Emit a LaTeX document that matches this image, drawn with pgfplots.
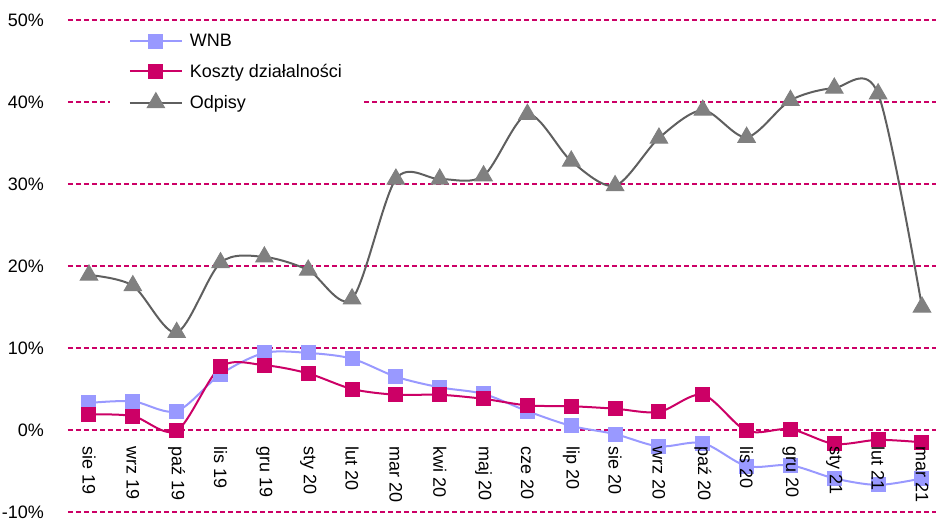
\documentclass[border=0pt]{standalone}
\usepackage{fontspec}
\setmainfont{Liberation Sans}
\usepackage{pgfplots}
\pgfplotsset{compat=1.18}
\definecolor{wnb}{HTML}{9999FF}
\definecolor{kosz}{HTML}{CC0066}
\definecolor{odpl}{HTML}{5F5F5F}
\definecolor{odpm}{HTML}{808080}
\pgfplotsset{
  common/.style={
    at={(0pt,0pt)}, anchor=south west,
    scale only axis, width=868pt, height=492pt,
    xmin=-0.479, xmax=19.32, ymin=-10, ymax=50,
    major tick length=0pt, clip=false,
    axis x line*=middle, axis y line*=left,
    x axis line style={draw=none}, y axis line style={draw=none},
    hide obscured x ticks=false, hide obscured y ticks=false,
  },
}
\pgfplotstableread{
x wnb kosz odp
0 3.3 1.9 18.9
1 3.5 1.7 17.6
2 2.3 -0.1 11.9
3 6.8 7.7 20.4
4 9.4 7.9 21.1
5 9.4 6.9 19.5
6 8.7 5.0 16.0
7 6.5 4.3 30.6
8 5.2 4.3 30.6
9 4.4 3.8 31.0
10 2.3 3.0 38.5
11 0.5 2.9 32.8
12 -0.5 2.6 29.8
13 -2.0 2.2 35.6
14 -1.6 4.3 39.0
15 -4.4 -0.1 35.7
16 -4.3 0.1 40.2
17 -5.9 -1.7 41.7
18 -6.7 -1.2 41.0
19 -5.9 -1.5 15.0
}\datatable
\begin{document}
\begin{tikzpicture}[font=\fontsize{18pt}{21pt}\selectfont]
\begin{axis}[
  common,
  ytick={-10,0,10,20,30,40,50},
  yticklabels={-10\%,0\%,10\%,20\%,30\%,40\%,50\%},
  yticklabel style={anchor=base east, inner sep=0pt, xshift=-24pt, yshift=-6.4pt},
  xtick=\empty,
  ymajorgrids, grid style={kosz, line width=1.5pt, dash pattern=on 5pt off 3pt},
  legend cell align=left,
  legend style={at={(axis description cs:0.048,0.984)}, anchor=north west, draw=none, fill=white, inner xsep=19pt, inner ysep=4pt, row sep=12pt, column sep=5pt},
  legend image code/.code={\draw[mark repeat=2,mark phase=2,#1] plot coordinates {(0pt,0pt) (26pt,0pt) (52pt,0pt)};},
]
\addplot[wnb, line width=2pt, smooth, mark=square*, mark size=7pt, mark options={fill=wnb, draw=wnb, line width=1pt}] table[x=x, y=wnb] {\datatable};
\addlegendentry{WNB}
\addplot[kosz, line width=2pt, smooth, mark=square*, mark size=7pt, mark options={fill=kosz, draw=kosz, line width=1pt}] table[x=x, y=kosz] {\datatable};
\addlegendentry{Koszty działalności}
\addplot[odpl, line width=2pt, smooth, mark=triangle*, mark size=10pt, mark options={fill=odpm, draw=odpm, line width=1pt}] table[x=x, y=odp] {\datatable};
\addlegendentry{Odpisy}
\end{axis}
\begin{axis}[
  common,
  ytick=\empty,
  xtick={0,...,19},
  xticklabels={sie 19,wrz 19,paź 19,lis 19,gru 19,sty 20,lut 20,mar 20,kwi 20,maj 20,cze 20,lip 20,sie 20,wrz 20,paź 20,lis 20,gru 20,sty 21,lut 21,mar 21},
  xticklabel style={yshift=-13pt, rotate=-90, anchor=west},
]
\addplot[draw=none, forget plot] coordinates {(0,0)};
\end{axis}
\pgfresetboundingbox
\path[use as bounding box] (-68pt,-8pt) rectangle (868pt,512pt);
\end{tikzpicture}
\end{document}
